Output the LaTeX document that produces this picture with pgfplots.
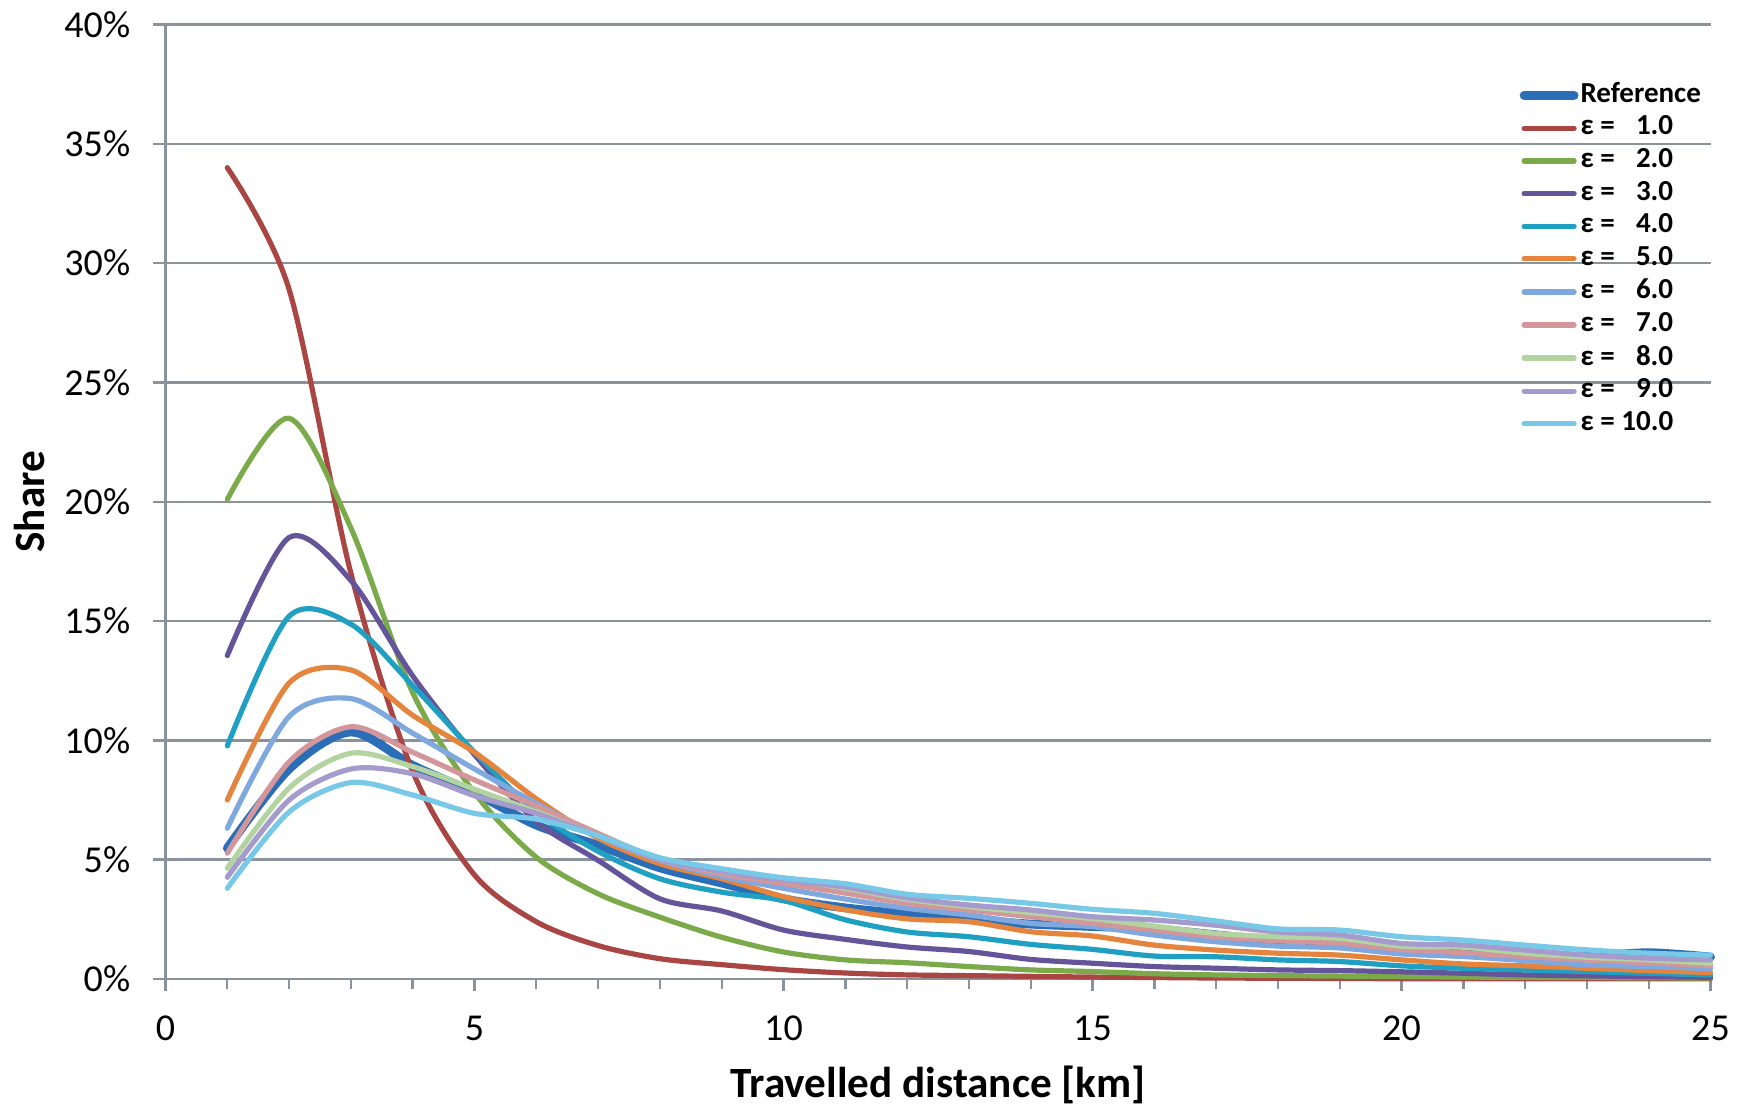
\documentclass[border=0pt]{standalone}
\usepackage{fontspec}
\setmainfont{Carlito}
\usepackage{pgfplots}
\pgfplotsset{compat=1.18}
\usepackage{pgfplotstable}

\definecolor{gridgray}{HTML}{8A929C}
\definecolor{cref}{HTML}{2A6EB8}
\definecolor{ce1}{HTML}{A94643}
\definecolor{ce2}{HTML}{7AAA4A}
\definecolor{ce3}{HTML}{64549A}
\definecolor{ce4}{HTML}{1FA0C2}
\definecolor{ce5}{HTML}{E5843D}
\definecolor{ce6}{HTML}{7FA8DE}
\definecolor{ce7}{HTML}{D2969B}
\definecolor{ce8}{HTML}{B3D4A0}
\definecolor{ce9}{HTML}{A59CCD}
\definecolor{ce10}{HTML}{78C8E8}

\pgfplotstableread{
x  ref   e1    e2    e3    e4    e5    e6    e7    e8    e9    e10
1  5.48  34.0  20.1  13.55 9.77  7.50  6.32  5.27  4.64  4.26  3.80
2  8.80  28.9  23.5  18.5  15.2  12.4  11.0  9.10  8.00  7.50  7.00
3  10.35 17.0  18.9  16.7  14.87 12.95 11.75 10.57 9.46  8.80  8.23
4  8.95  8.70  12.0  12.7  12.3  11.05 10.3  9.50  8.90  8.60  7.71
5  7.80  4.36  7.80  9.40  9.50  9.50  8.80  8.34  7.95  7.68  6.94
6  6.45  2.40  5.10  6.60  7.00  7.55  7.36  7.25  7.01  6.94  6.70
7  5.60  1.40  3.57  4.97  5.35  5.90  6.00  6.10  6.00  6.00  6.00
8  4.66  0.85  2.59  3.36  4.20  4.83  4.97  5.00  5.00  5.00  5.08
9  4.02  0.60  1.75  2.85  3.64  4.20  4.30  4.40  4.50  4.50  4.62
10 3.36  0.39  1.13  2.05  3.29  3.45  3.80  4.00  4.20  4.15  4.24
11 2.98  0.25  0.80  1.66  2.48  2.90  3.35  3.60  3.80  3.85  3.99
12 2.72  0.17  0.68  1.34  1.97  2.52  2.96  3.17  3.34  3.40  3.55
13 2.50  0.14  0.52  1.15  1.77  2.40  2.68  2.89  3.03  3.10  3.38
14 2.30  0.11  0.38  0.82  1.45  1.98  2.33  2.61  2.78  2.89  3.17
15 2.20  0.08  0.31  0.66  1.24  1.80  2.19  2.33  2.53  2.61  2.92
16 2.10  0.06  0.22  0.52  0.96  1.42  1.84  2.05  2.22  2.47  2.75
17 1.85  0.04  0.17  0.45  0.93  1.21  1.56  1.77  1.91  2.25  2.43
18 1.60  0.03  0.14  0.38  0.80  1.08  1.38  1.60  1.77  1.97  2.10
19 1.45  0.02  0.12  0.35  0.73  1.00  1.30  1.50  1.70  1.84  2.05
20 1.25  0.01  0.10  0.30  0.55  0.80  1.05  1.24  1.38  1.49  1.77
21 1.15  0.01  0.08  0.24  0.45  0.63  0.94  1.10  1.33  1.42  1.63
22 1.00  0.01  0.07  0.17  0.38  0.55  0.77  0.94  1.08  1.21  1.42
23 0.95  0.01  0.06  0.13  0.31  0.45  0.59  0.80  0.91  1.00  1.22
24 1.10  0.01  0.05  0.10  0.24  0.35  0.52  0.68  0.80  0.87  1.08
25 0.92  0.01  0.04  0.07  0.17  0.27  0.43  0.55  0.66  0.80  1.00
}\data

\begin{document}
\begin{tikzpicture}
\begin{axis}[
  scale only axis, width=386.25pt, height=238.625pt,
  xmin=0, xmax=25, ymin=0, ymax=40,
  clip=false,
  axis x line*=bottom, axis y line*=left,
  axis line style={draw=gridgray, line width=0.7pt, -},
  xtick={0,5,...,25},
  minor xtick={1,2,3,4,6,7,8,9,11,12,13,14,16,17,18,19,21,22,23,24},
  ytick={0,5,...,40},
  tick align=outside, major tick length=3pt, minor tick length=2.6pt,
  every tick/.style={draw=gridgray, line width=0.6pt},
  ymajorgrids,
  major grid style={draw=gridgray, line width=0.6pt},
  yticklabel={\pgfmathprintnumber{\tick}\%},
  /pgf/number format/assume math mode=true,
  ticklabel style={font=\fontsize{9.5}{11}\selectfont},
  yticklabel style={xshift=-2.3pt},
  xticklabel style={yshift=-2.8pt},
  every axis x label/.style={at={(axis description cs:0.5,-0.1111)}, anchor=center},
  every axis y label/.style={at={(axis description cs:-0.0878,0.5)}, rotate=90, anchor=center},
  label style={font=\bfseries\fontsize{10.8}{13}\selectfont},
  xlabel={Travelled distance [km]},
  ylabel={Share},
  legend style={at={(axis cs:21.9,37.7)}, anchor=north west, draw=none, fill=none,
    font=\bfseries\fontsize{7.25}{8}\selectfont, inner sep=0pt, row sep=0.9pt,
    nodes={inner sep=0.5pt}},
  legend cell align=left,
  legend image code/.code={\draw[#1, line cap=round] (0pt,0pt) -- (12.5pt,0pt);},
  every axis plot/.append style={smooth, no markers, line cap=round, line join=round},
]
\addplot[cref, line width=2.2pt] table[x=x, y=ref] {\data};
\addlegendentry{Reference}
\addplot[ce1, line width=1.3pt] table[x=x, y=e1] {\data};
\addlegendentry{ε = \phantom{1}1.0}
\addplot[ce2, line width=1.3pt] table[x=x, y=e2] {\data};
\addlegendentry{ε = \phantom{1}2.0}
\addplot[ce3, line width=1.3pt] table[x=x, y=e3] {\data};
\addlegendentry{ε = \phantom{1}3.0}
\addplot[ce4, line width=1.3pt] table[x=x, y=e4] {\data};
\addlegendentry{ε = \phantom{1}4.0}
\addplot[ce5, line width=1.3pt] table[x=x, y=e5] {\data};
\addlegendentry{ε = \phantom{1}5.0}
\addplot[ce6, line width=1.3pt] table[x=x, y=e6] {\data};
\addlegendentry{ε = \phantom{1}6.0}
\addplot[ce7, line width=1.3pt] table[x=x, y=e7] {\data};
\addlegendentry{ε = \phantom{1}7.0}
\addplot[ce8, line width=1.3pt] table[x=x, y=e8] {\data};
\addlegendentry{ε = \phantom{1}8.0}
\addplot[ce9, line width=1.3pt] table[x=x, y=e9] {\data};
\addlegendentry{ε = \phantom{1}9.0}
\addplot[ce10, line width=1.3pt] table[x=x, y=e10] {\data};
\addlegendentry{ε = 10.0}
\end{axis}
\pgfresetboundingbox
\path[use as bounding box] ([xshift=-41.375pt,yshift=-32.5pt]current axis.south west) rectangle ([xshift=9.375pt,yshift=6.125pt]current axis.north east);
\end{tikzpicture}
\end{document}
